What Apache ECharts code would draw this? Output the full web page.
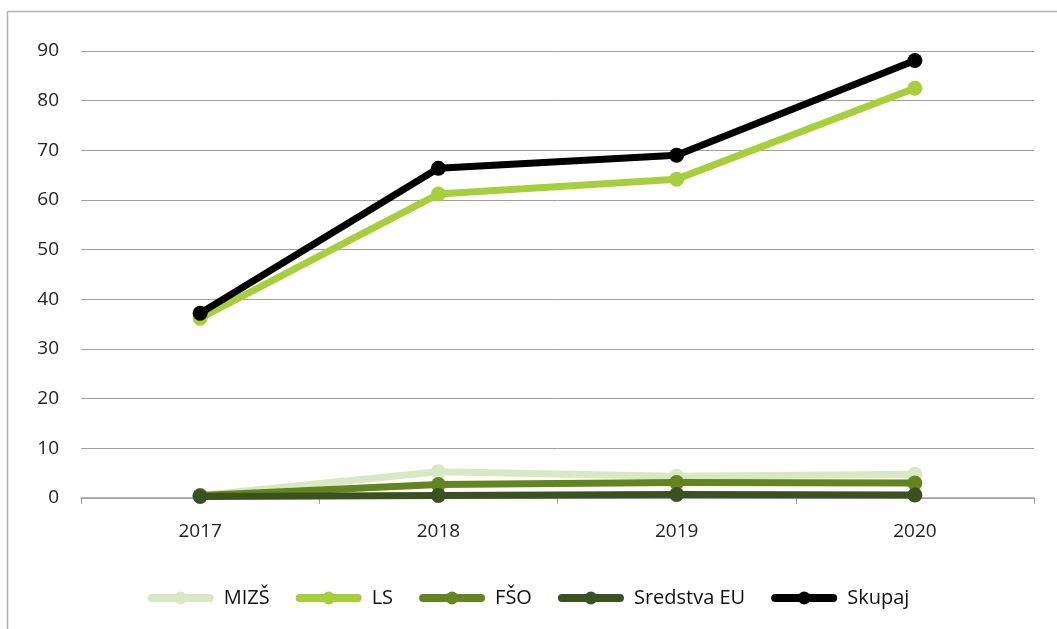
<!DOCTYPE html>
<html>
<head>
<meta charset="utf-8">
<script src="https://cdn.jsdelivr.net/npm/echarts@6/dist/echarts.min.js"></script>
<style>
  html, body { margin: 0; padding: 0; background: #fff; }
  #chart { width: 1057px; height: 629px; }
</style>
</head>
<body>
<div id="chart"></div>
<script>
// podatki, odčitani s slike
const years = ["2017", "2018", "2019", "2020"];
const mizs = [0.5, 5.3, 4.4, 4.8];
const ls = [36.2, 61.2, 64.2, 82.5];
const fso = [0.5, 2.7, 3.1, 3.0];
const sredstvaEU = [0.3, 0.5, 0.7, 0.6];
const skupaj = [37.2, 66.4, 69.0, 88.1];

const font = "'Open Sans', 'Noto Sans', sans-serif";

function lineSeries(name, data, color, z) {
  return {
    name: name,
    type: "line",
    data: data,
    z: z,
    symbol: "circle",
    symbolSize: 15,
    lineStyle: { width: 7, color: color, cap: "round", join: "round" },
    itemStyle: { color: color },
    emphasis: { disabled: true },
  };
}

var myChart = echarts.init(document.getElementById("chart"));

let option = {
  animation: false,
  textStyle: { fontFamily: font, color: "#222" },
  graphic: [
    // zgornji in levi rob okvirja
    { type: "line", shape: { x1: 7.5, y1: 11.5, x2: 1057, y2: 11.5 }, style: { stroke: "#b0b0b0", lineWidth: 1.5 } },
    { type: "line", shape: { x1: 7.5, y1: 11.5, x2: 7.5, y2: 629 }, style: { stroke: "#b0b0b0", lineWidth: 1.5 } },
  ],
  legend: {
    bottom: 16,
    left: "center",
    itemWidth: 58,
    itemHeight: 16,
    itemGap: 26,
    lineStyle: { width: 8, cap: "round" },
    textStyle: { fontSize: 20, color: "#111", fontFamily: font, padding: [0, 0, 0, 9] },
    data: ["MIZŠ", "LS", "FŠO", "Sredstva EU", "Skupaj"],
  },
  grid: {
    left: 81,
    right: 23,
    top: 51,
    bottom: 131,
  },
  xAxis: {
    type: "category",
    data: years,
    boundaryGap: true,
    axisLine: { lineStyle: { color: "#a0a0a0", width: 1.5 } },
    axisTick: { show: true, length: 6, lineStyle: { color: "#a0a0a0" } },
    axisLabel: { fontSize: 19, color: "#222", margin: 24 },
  },
  yAxis: {
    type: "value",
    min: 0,
    max: 90,
    interval: 10,
    axisLine: { show: false },
    axisTick: { show: false },
    splitLine: { lineStyle: { color: "#a0a0a0", width: 1 } },
    axisLabel: { fontSize: 19, color: "#222", margin: 22 },
  },
  series: [
    lineSeries("MIZŠ", mizs, "#d9e8c4", 2),
    lineSeries("LS", ls, "#a7cf3b", 3),
    lineSeries("FŠO", fso, "#64841f", 4),
    lineSeries("Sredstva EU", sredstvaEU, "#3a5221", 5),
    lineSeries("Skupaj", skupaj, "#000000", 6),
  ],
};
myChart.setOption(option);
</script>
</body>
</html>
